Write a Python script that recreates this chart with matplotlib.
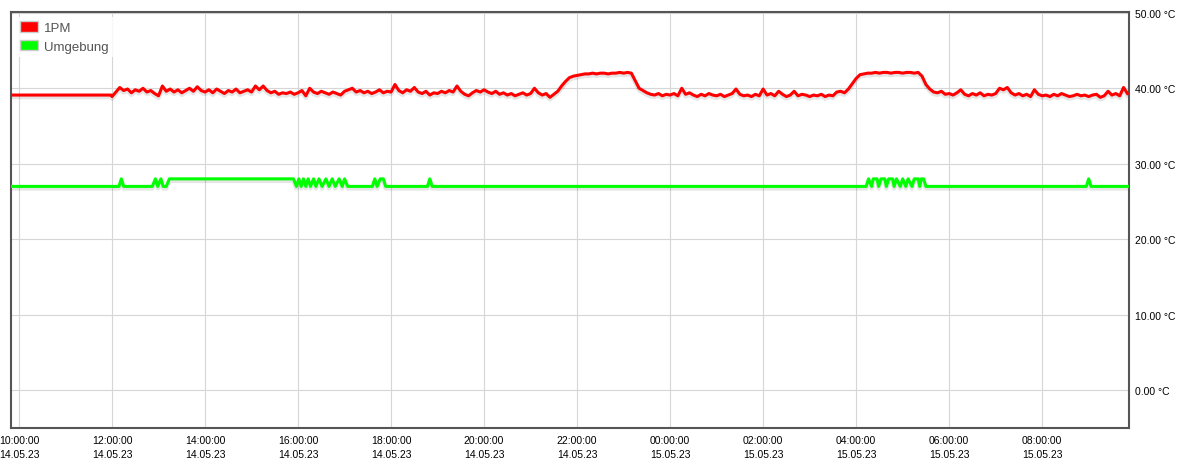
import numpy as np
import pandas as pd
import matplotlib
matplotlib.use("Agg")
import matplotlib.pyplot as plt
import matplotlib.dates as mdates
import matplotlib.transforms as mtransforms
from matplotlib.patches import Patch

plt.rcParams['font.family'] = ['Liberation Sans', 'DejaVu Sans']

# ---- data -------------------------------------------------------------
# 1PM: flat until 12:00, then one reading every 5 minutes up to 09:50
red_start = ["2023-05-14 09:50", "2023-05-14 11:59"]
red_start_values = [39.1, 39.1]
red_values = [
    38.9, 39.5, 40.1, 39.7, 39.9, 39.4, 39.8, 39.6, 40.0, 39.5, 39.7, 39.3,  # 12h
    39.0, 40.3, 39.6, 39.9, 39.5, 39.8, 39.4, 39.7, 40.0, 39.6, 40.2, 39.7,  # 13h
    39.5, 39.8, 39.4, 39.9, 39.6, 39.3, 39.7, 39.5, 39.9, 39.4, 39.6, 39.8,  # 14h
    39.5, 40.3, 39.8, 40.3, 39.7, 39.4, 39.6, 39.2, 39.4, 39.3, 39.5, 39.2,  # 15h
    39.4, 39.7, 39.0, 40.0, 39.5, 39.3, 39.6, 39.4, 39.2, 39.5, 39.3, 39.1,  # 16h
    39.6, 39.8, 40.0, 39.5, 39.7, 39.4, 39.6, 39.3, 39.5, 39.8, 39.4, 39.6,  # 17h
    39.5, 40.5, 39.7, 39.4, 39.8, 39.6, 40.1, 39.5, 39.3, 39.6, 39.1, 39.4,  # 18h
    39.3, 39.6, 39.4, 39.7, 39.5, 40.3, 39.6, 39.2, 39.0, 39.4, 39.7, 39.5,  # 19h
    39.8, 39.5, 39.3, 39.6, 39.2, 39.4, 39.1, 39.3, 39.0, 39.2, 39.4, 39.1,  # 20h
    39.3, 40.0, 39.4, 39.1, 39.3, 38.8, 39.2, 39.6, 40.3, 40.9, 41.4, 41.6,  # 21h
    41.7, 41.8, 41.9, 41.9, 42.0, 41.9, 42.0, 42.0, 41.9, 42.0, 42.0, 42.1,  # 22h
    42.0, 42.1, 42.0, 41.0, 40.0, 39.7, 39.4, 39.2, 39.1, 39.3, 39.0, 39.2,  # 23h
    39.1, 39.3, 39.0, 40.0, 39.2, 39.4, 39.1, 38.9, 39.2, 39.0, 39.3, 39.1,  # 00h
    39.0, 39.2, 38.9, 39.1, 39.3, 39.9, 39.2, 39.0, 39.1, 38.9, 39.2, 39.0,  # 01h
    39.9, 39.1, 39.3, 39.0, 39.6, 39.2, 38.9, 39.1, 39.6, 39.0, 39.2, 39.1,  # 02h
    38.9, 39.1, 39.0, 39.2, 38.9, 39.1, 39.0, 39.5, 39.6, 39.4, 39.9, 40.6,  # 03h
    41.3, 41.8, 41.9, 42.0, 42.0, 42.1, 42.0, 42.1, 42.1, 42.0, 42.1, 42.1,  # 04h
    42.0, 42.1, 42.1, 42.0, 42.1, 41.6, 40.5, 39.9, 39.5, 39.4, 39.6, 39.2,  # 05h
    39.3, 39.1, 39.4, 39.8, 39.2, 39.0, 39.3, 39.1, 39.4, 39.0, 39.2, 39.1,  # 06h
    39.3, 40.0, 39.8, 40.1, 39.4, 39.1, 39.3, 39.0, 39.2, 38.9, 39.8, 39.2,  # 07h
    39.0, 39.1, 38.9, 39.2, 39.0, 39.3, 39.1, 38.9, 39.0, 39.2, 39.0, 39.1,  # 08h
    38.9, 39.1, 39.2, 38.8, 39.0, 39.6, 39.1, 39.3, 39.0, 40.1, 39.3,        # 09h
]
red_times = pd.date_range("2023-05-14 12:00", periods=len(red_values), freq="5min")

# Umgebung: switches between 27 and 28 degrees
green_times = [
    "2023-05-14 09:50", "2023-05-14 12:09", "2023-05-14 12:12", "2023-05-14 12:15",
    "2023-05-14 12:52", "2023-05-14 12:56", "2023-05-14 12:59", "2023-05-14 13:03",
    "2023-05-14 13:06", "2023-05-14 13:10", "2023-05-14 13:14",
    "2023-05-14 15:54", "2023-05-14 15:58", "2023-05-14 16:01", "2023-05-14 16:04",
    "2023-05-14 16:07", "2023-05-14 16:10", "2023-05-14 16:13", "2023-05-14 16:16",
    "2023-05-14 16:20", "2023-05-14 16:23", "2023-05-14 16:27", "2023-05-14 16:31",
    "2023-05-14 16:36", "2023-05-14 16:40", "2023-05-14 16:44", "2023-05-14 16:48",
    "2023-05-14 16:53", "2023-05-14 16:57", "2023-05-14 17:00", "2023-05-14 17:04",
    "2023-05-14 17:36", "2023-05-14 17:39", "2023-05-14 17:42", "2023-05-14 17:46",
    "2023-05-14 17:50", "2023-05-14 17:53",
    "2023-05-14 18:47", "2023-05-14 18:50", "2023-05-14 18:53",
    "2023-05-15 04:13", "2023-05-15 04:16", "2023-05-15 04:20", "2023-05-15 04:22",
    "2023-05-15 04:27", "2023-05-15 04:29", "2023-05-15 04:32", "2023-05-15 04:37",
    "2023-05-15 04:39", "2023-05-15 04:42", "2023-05-15 04:47", "2023-05-15 04:49",
    "2023-05-15 04:52", "2023-05-15 04:57", "2023-05-15 05:00", "2023-05-15 05:04",
    "2023-05-15 05:07", "2023-05-15 05:12", "2023-05-15 05:15", "2023-05-15 05:20",
    "2023-05-15 05:22", "2023-05-15 05:24", "2023-05-15 05:27", "2023-05-15 05:30",
    "2023-05-15 08:57", "2023-05-15 09:00", "2023-05-15 09:03", "2023-05-15 09:50",
]
green_values = [
    27, 27, 28, 27,
    27, 28, 27, 28,
    27, 27, 28,
    28, 27, 28, 27,
    28, 27, 28, 27,
    28, 27, 28, 27,
    28, 27, 28, 27,
    28, 27, 28, 27,
    27, 28, 27, 28,
    28, 27,
    27, 28, 27,
    27, 28, 27, 28,
    28, 27, 28, 28,
    27, 28, 28, 27,
    28, 27, 28, 27,
    28, 27, 28, 28,
    27, 28, 28, 27,
    27, 28, 27, 27,
]

series_names = ["1PM", "Umgebung"]
series_colors = ["#ff0000", "#00ff00"]
y_ticks = [0, 10, 20, 30, 40, 50]

red_x = list(pd.to_datetime(red_start)) + list(red_times)
red_y = red_start_values + red_values
green_x = pd.to_datetime(green_times)

# ---- plot -------------------------------------------------------------
fig = plt.figure(figsize=(11.82, 4.64), dpi=100)
ax = fig.add_axes([11 / 1182, 1 - 429 / 464, 1118 / 1182, 416 / 464])

shadow = mtransforms.offset_copy(ax.transData, fig=fig, x=0, y=-2, units='dots')
for xs, ys, col in [(red_x, red_y, series_colors[0]), (green_x, green_values, series_colors[1])]:
    ax.plot(xs, ys, color=(0, 0, 0, 0.10), lw=3.2, transform=shadow, zorder=2)
    ax.plot(xs, ys, color=col, lw=2.2, zorder=3)

ax.set_ylim(-5, 50.1)
ax.set_xlim(pd.Timestamp("2023-05-14 09:49:40"), pd.Timestamp("2023-05-15 09:52"))
ax.set_yticks(y_ticks)
ax.set_yticklabels([f"{v:.2f} °C" for v in y_ticks])
ax.yaxis.tick_right()
ax.xaxis.set_major_locator(mdates.HourLocator(byhour=range(0, 24, 2)))
ax.xaxis.set_major_formatter(mdates.DateFormatter("%H:%M:%S\n%d.%m.%y"))
ax.tick_params(axis='both', length=0, labelsize=7.5, colors='black')
ax.tick_params(axis='x', pad=5)
ax.tick_params(axis='y', pad=4)
for lab in ax.get_xticklabels():
    lab.set_linespacing(1.45)

ax.grid(True, color='#d6d6d6', lw=0.8)
ax.set_axisbelow(True)
for sp in ax.spines.values():
    sp.set_color('#555555')
    sp.set_linewidth(1.5)

handles = [Patch(facecolor=c, edgecolor='#cccccc', lw=1) for c in series_colors]
leg = ax.legend(handles, series_names, loc='upper left', fontsize=9.5,
                frameon=True, framealpha=0.85, edgecolor='none', fancybox=False,
                handlelength=1.35, handleheight=0.9, handletextpad=0.45,
                labelspacing=0.4, borderaxespad=0.35, borderpad=0.35)
for t in leg.get_texts():
    t.set_color('#545454')

fig.savefig("out.png", dpi=100)
